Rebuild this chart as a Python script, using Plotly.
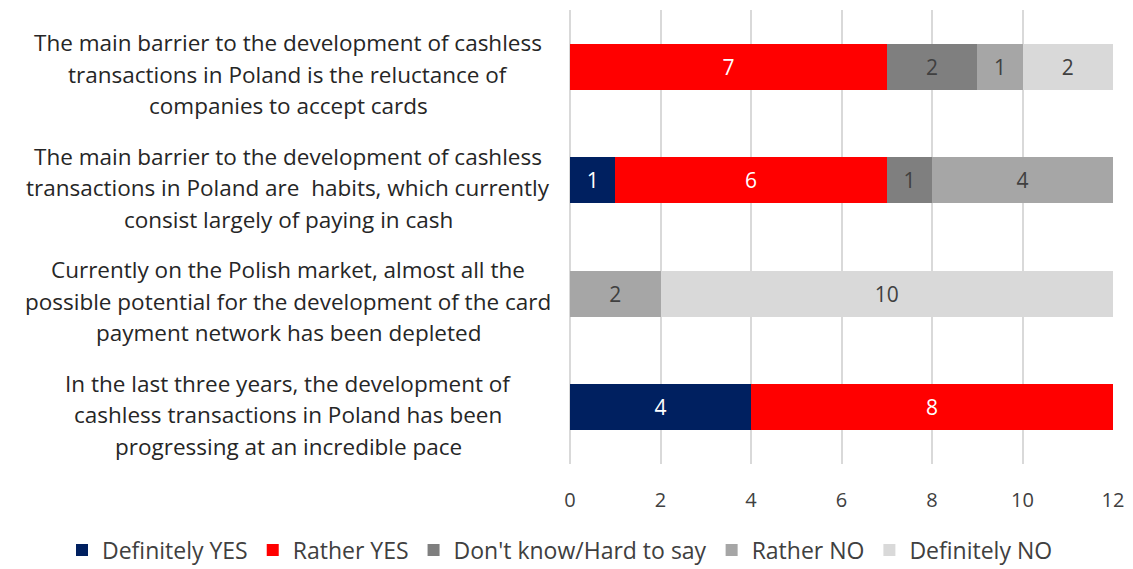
import plotly.graph_objects as go

categories = [
    "The main barrier to the development of cashless<br>transactions in Poland is the reluctance of<br>companies to accept cards",
    "The main barrier to the development of cashless<br>transactions in Poland are  habits, which currently<br>consist largely of paying in cash",
    "Currently on the Polish market, almost all the<br>possible potential for the development of the card<br>payment network has been depleted",
    "In the last three years, the development of<br>cashless transactions in Poland has been<br>progressing at an incredible pace",
]
series_names = ["Definitely YES", "Rather YES", "Don't know/Hard to say", "Rather NO", "Definitely NO"]
definitely_yes = [0, 1, 0, 4]
rather_yes = [7, 6, 0, 8]
dont_know = [2, 1, 0, 0]
rather_no = [1, 4, 2, 0]
definitely_no = [2, 0, 10, 0]
x_ticks = [0, 2, 4, 6, 8, 10, 12]

series_values = [definitely_yes, rather_yes, dont_know, rather_no, definitely_no]
colors = ["#002060", "#FF0000", "#7F7F7F", "#A6A6A6", "#D9D9D9"]
text_colors = ["#FFFFFF", "#FFFFFF", "#404040", "#404040", "#404040"]

FONT = "Open Sans"
fig = go.Figure()
for name, vals, col, tcol in zip(series_names, series_values, colors, text_colors):
    fig.add_trace(go.Bar(
        y=categories, x=vals, name=name, orientation="h",
        marker=dict(color=col, line=dict(width=0)),
        text=[str(v) if v else "" for v in vals],
        textposition="inside", insidetextanchor="middle",
        textfont=dict(color=tcol, size=21, family=FONT),
        hoverinfo="skip",
    ))

# category labels as centred multi-line annotations
plot_w = 1105 - 562
plot_h = 454
line_gap = 31.5
for cat in categories:
    lines = cat.split("<br>")
    n = len(lines)
    for i, ln in enumerate(lines):
        fig.add_annotation(
            x=(280 - 562) / plot_w, xref="paper", y=cat, yref="y",
            text=ln, showarrow=False, xanchor="center", yanchor="middle",
            yshift=-(i - (n - 1) / 2) * line_gap - 7.5,
            font=dict(size=22.5, family=FONT, color="#262626"),
        )

fig.update_layout(
    barmode="stack", bargap=0.595,
    width=1125, height=561,
    margin=dict(l=562, r=20, t=2, b=105, autoexpand=False),
    plot_bgcolor="white", paper_bgcolor="white",
    font=dict(family=FONT, size=20, color="#595959"),
    xaxis=dict(range=[0, 12], tickvals=x_ticks, showgrid=True, gridcolor="#D9D9D9",
               gridwidth=2, zeroline=True, zerolinecolor="#D9D9D9", zerolinewidth=2,
               tickfont=dict(size=20, color="#404040", family=FONT), ticks="",
               ticklabelstandoff=22, fixedrange=True),
    yaxis=dict(categoryorder="array", categoryarray=categories[::-1], showticklabels=False,
               showgrid=False, zeroline=False, ticks=""),
    legend=dict(orientation="h", x=(54 - 562) / plot_w, xanchor="left", xref="paper",
                y=-(542 - 456) / plot_h, yanchor="middle", yref="paper",
                bgcolor="rgba(0,0,0,0)",
                font=dict(size=23, color="#404040", family=FONT), traceorder="normal",
                itemwidth=30, tracegroupgap=0),
    showlegend=True,
)

fig.write_html("out.html")
